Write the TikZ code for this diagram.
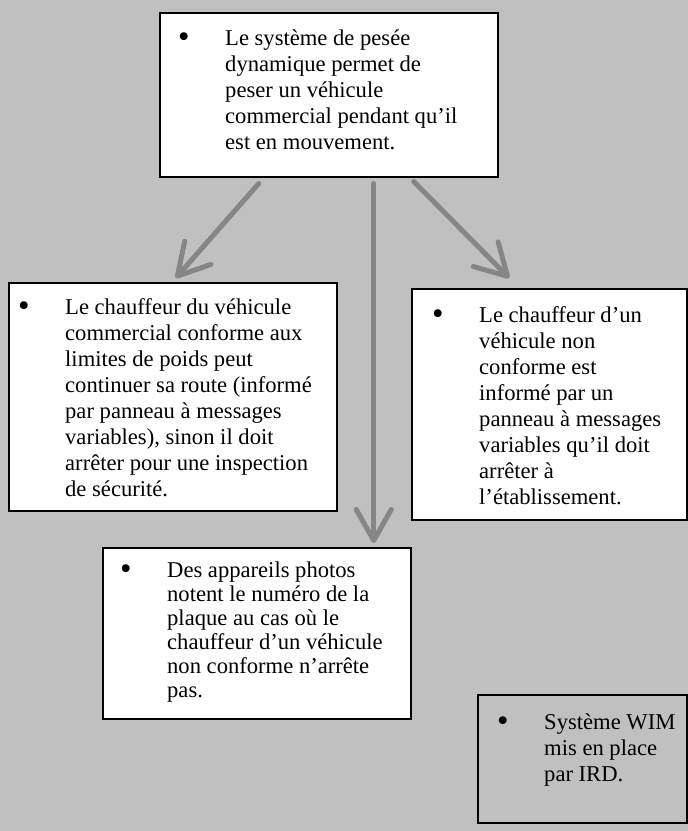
\documentclass[tikz,border=0pt]{standalone}
\usepackage{fontspec}
\setmainfont{Liberation Serif}
\usetikzlibrary{arrows.meta}

\definecolor{wim-FondColor}{rgb}{0.753,0.753,0.753}
\definecolor{wim-FlecheColor}{rgb}{0.525,0.525,0.525}
\tikzstyle{wim-boite-base}=[rectangle,
                            draw=black,
                            line width=1.5pt,
                            anchor=north west,
                            inner sep=0pt,
                           ]
\tikzstyle{wim-boite}=[wim-boite-base,
                       fill=white]
\tikzstyle{wim-note}=[wim-boite-base,
                      fill={wim-FondColor}]
\tikzstyle{wim-texte}=[anchor=base west,
                       inner sep=0pt,
                       font=\fontsize{22.6}{26}\selectfont]
\tikzstyle{wim-fleche}=[draw={wim-FlecheColor},
                        line width=5pt,
                        line cap=round,
                        -{Straight Barb[length=31pt, width=35pt, round]}]

% puce + lignes du texte
\newcommand{\puce}[1]{\makebox[47pt][l]{\raisebox{-2.5pt}{\scalebox{1.45}{\textbullet}}}\begin{tabular}[t]{@{}l@{}}#1\end{tabular}}

\begin{document}
\begin{tikzpicture}[x=1pt, y=-1pt]
    % Fond
    % --------------------------------------------------------------------------
    \fill[wim-FondColor] (0, 0) rectangle (688, 831);

    % Boites
    % --------------------------------------------------------------------------
    \node at (159,  12) (haut)   [wim-boite, minimum width=338pt, minimum height=164pt] {};
    \node at (178,  45) (haut_texte) [wim-texte] {\puce{Le système de pesée\\
                                                        dynamique permet de\\
                                                        peser un véhicule\\
                                                        commercial pendant qu’il\\
                                                        est en mouvement.}};

    % ------------------------------------------------------------------------
    \node at (  8, 282) (gauche) [wim-boite, minimum width=328pt, minimum height=228pt] {};
    \node at ( 18, 314) (gauche_texte) [wim-texte] {\puce{Le chauffeur du véhicule\\
                                                          commercial conforme aux\\
                                                          limites de poids peut\\
                                                          continuer sa route (informé\\
                                                          par panneau à messages\\
                                                          variables), sinon il doit\\
                                                          arrêter pour une inspection\\
                                                          de sécurité.}};

    \node at (411, 288) (droite) [wim-boite, minimum width=275pt, minimum height=231pt] {};
    \node at (432, 322) (droite_texte) [wim-texte] {\puce{Le chauffeur d’un\\
                                                          véhicule non\\
                                                          conforme est\\
                                                          informé par un\\
                                                          panneau à messages\\
                                                          variables qu’il doit\\
                                                          arrêter à\\
                                                          l’établissement.}};

    % ------------------------------------------------------------------------
    \node at (102, 547) (bas) [wim-boite, minimum width=308pt, minimum height=171pt] {};
    \node at (120, 577) (bas_texte) [wim-texte, font=\fontsize{22.6}{24}\selectfont]
                                                      {\puce{Des appareils photos\\
                                                       notent le numéro de la\\
                                                       plaque au cas où le\\
                                                       chauffeur d’un véhicule\\
                                                       non conforme n’arrête\\
                                                       pas.}};

    \node at (477, 694) (wim) [wim-note, minimum width=209pt, minimum height=128pt] {};
    \node at (497, 729) (wim_texte) [wim-texte] {\puce{Système WIM\\
                                                       mis en place\\
                                                       par IRD.}};

    % Fleches
    % --------------------------------------------------------------------------
    \draw[wim-fleche] ([shift={(-70, 6)}]haut.south) -- ([shift={(3, -4)}]gauche.north);
    \draw[wim-fleche] ([shift={( 45, 6)}]haut.south) -- ([shift={(117, -4)}]bas.north);
    \draw[wim-fleche] ([shift={( 85, 4)}]haut.south) -- ([shift={(-40, -10)}]droite.north);

\end{tikzpicture}
\end{document}
